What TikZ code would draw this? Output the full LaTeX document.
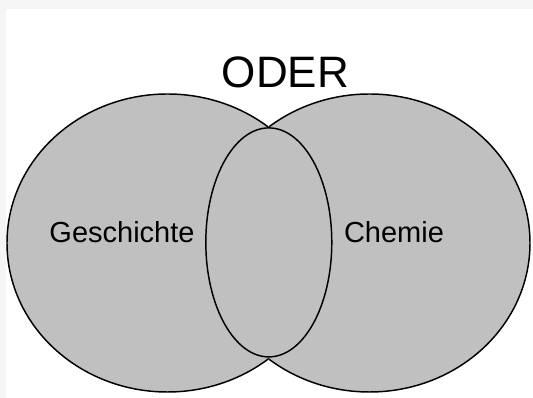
\documentclass[tikz,border=0pt]{standalone}
\usepackage{fontspec}
\setmainfont{Liberation Sans}
\usetikzlibrary{calc}
\definecolor{silber}{RGB}{192,192,192}
\definecolor{rahmen}{RGB}{245,245,245}

\begin{document}
\begin{tikzpicture}[x=0.75pt,y=-0.75pt,
  menge/.style={fill=silber},
  rand/.style={line width=1.1pt,black},
  beschrift/.style={font=\fontsize{21.75}{26}\selectfont,anchor=base}]

\useasboundingbox (0,0) rectangle (533,398);
\fill[rahmen] (0,0) rectangle (533,398);
\fill[white] (6,9) rectangle (533,398);

\coordinate (G) at (167.5,243);
\coordinate (C) at (369.5,243);
\coordinate (S) at (268.8,242.4);

% beide Mengen
\fill[menge] (G) ellipse (160.5 and 149);
\fill[menge] (C) ellipse (160.5 and 149);

\begin{scope}
\clip (0,0) rectangle (268.5,398);
\draw[rand] (G) ellipse (160.5 and 149);
\end{scope}
\begin{scope}
\clip (268.5,0) rectangle (533,398);
\draw[rand] (C) ellipse (160.5 and 149);
\end{scope}

% Schnittmenge
\draw[rand] (S) ellipse (63 and 114.5);

\node[beschrift] (geschichte) at (122,243) {Geschichte};
\node[beschrift] (chemie) at (394,243) {Chemie};
\node[font=\fontsize{33}{40}\selectfont,anchor=base] (oder) at (285.5,88) {ODER};

\end{tikzpicture}
\end{document}
